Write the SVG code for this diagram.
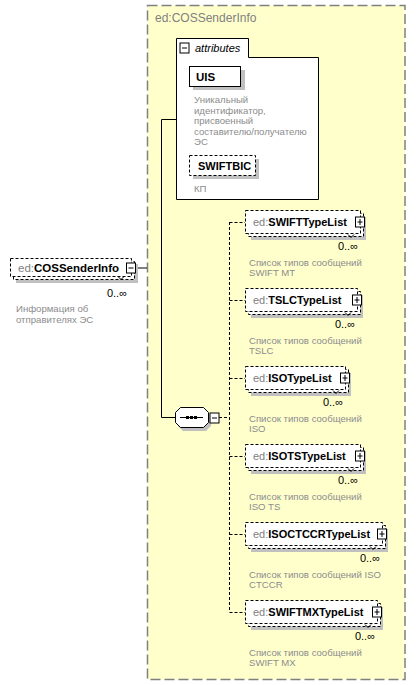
<svg xmlns="http://www.w3.org/2000/svg" width="416" height="685" viewBox="0 0 416 685">
<style>
text{font-family:"Liberation Sans",Arial,sans-serif;}
.nm{font-size:11px;font-weight:bold;fill:#000;}
.ns{font-weight:normal;fill:#808080;}
.ds{font-size:9.6px;fill:#8c8c8c;}
.oc{font-size:11px;fill:#000;text-anchor:end;}
.fr{fill:#fff;stroke:#000;stroke-width:1;stroke-dasharray:3,2;}
.sh{fill:#c0c0c0;}
.ic{fill:#fff;stroke:#000;stroke-width:1;}
.ln{stroke:#000;stroke-width:1;fill:none;}
.dl{stroke:#000;stroke-width:1;fill:none;stroke-dasharray:3,2;}
</style>
<defs>
<g id="plus"><rect class="ic" x="-4.5" y="-5.5" width="9" height="10"/><path class="ln" d="M-2.5,-0.5H2.5M0,-3.5V2.5"/></g>
<g id="minus"><rect class="ic" x="-4.5" y="-5.5" width="9" height="10"/><path class="ln" d="M-2.5,-0.5H2.5"/></g>
</defs>

<g id="container">
<rect x="147.5" y="5.5" width="257.5" height="674" fill="#ffffcc" stroke="#808080" stroke-width="1.5" stroke-dasharray="10,4"/>
<text x="155" y="22" font-size="12" fill="#808080">ed:COSSenderInfo</text>
</g>

<g id="connectors">
<path class="ln" d="M135,268H147"/>
<path class="ln" d="M161.5,119.5H176M161.5,119.5V417.5H175"/>
<path class="ln" d="M208,417.5H210"/>
<path class="dl" d="M219,417.5H229.5M229.5,222V612"/>
<path class="dl" d="M229.5,222.5H245M229.5,300.5H245M229.5,378.5H245M229.5,456.5H245M229.5,534.5H245M229.5,612.5H245"/>
</g>

<g id="attributes">
<path d="M176.5,199.5V38.5H248.5V57.5H318.5V199.5Z" fill="#fff" stroke="#000" stroke-width="1"/>
<use href="#minus" x="184.5" y="48.5"/>
<text x="195" y="52" font-size="11" font-style="italic" fill="#000">attributes</text>
</g>

<g id="attr-UIS">
<rect class="sh" x="193" y="70" width="52" height="20"/>
<rect x="189.5" y="66.5" width="51" height="20" fill="#fff" stroke="#000"/>
<text class="nm" x="196" y="80.5" style="font-size:11.5px">UIS</text>
<text class="ds" x="194" y="103">Уникальный</text>
<text class="ds" x="194" y="113.6">идентификатор,</text>
<text class="ds" x="194" y="124.2">присвоенный</text>
<text class="ds" x="194" y="134.8">составителю/получателю</text>
<text class="ds" x="194" y="145.4">ЭС</text>
</g>

<g id="attr-SWIFTBIC">
<rect class="sh" x="193" y="159" width="66" height="20"/>
<rect class="fr" x="189.5" y="155.5" width="66" height="20"/>
<text class="nm" x="198" y="170">SWIFTBIC</text>
<text class="ds" x="194" y="192">КП</text>
</g>

<g id="COSSenderInfo">
<rect class="sh" x="16" y="264" width="122" height="19"/>
<rect class="fr" x="13.5" y="261.5" width="121" height="18"/>
<rect class="fr" x="10.5" y="258.5" width="121" height="18"/>
<text class="nm" x="18" y="272" style="font-size:11.5px"><tspan class="ns">ed:</tspan>COSSenderInfo</text>
<use href="#minus" x="131" y="268.5"/>
<path class="ln" d="M118,276.5l3,3l3,-3"/>
<text class="oc" x="127" y="297">0..∞</text>
<text class="ds" x="16" y="312">Информация об</text>
<text class="ds" x="16" y="322.5">отправителях ЭС</text>
</g>

<g id="sequence">
<path class="sh" d="M178,416L183,411H206L211,416V426L206,431H183L178,426Z"/>
<path d="M175.5,412.5L180.5,407.5H203.5L208.5,412.5V422.5L203.5,427.5H180.5L175.5,422.5Z" fill="#fff" stroke="#000"/>
<path class="ln" d="M180,417.5H203"/>
<rect x="186" y="416" width="3" height="3" fill="#000"/>
<rect x="190" y="416" width="3" height="3" fill="#000"/>
<rect x="194" y="416" width="3" height="3" fill="#000"/>
<use href="#minus" x="214.5" y="418.5"/>
</g>

<g id="SWIFTTypeList">
<rect class="sh" x="251" y="217" width="115" height="23"/>
<rect class="fr" x="248.5" y="213.5" width="115" height="23"/>
<rect class="fr" x="245.5" y="210.5" width="115" height="23"/>
<text class="nm" x="253" y="226"><tspan class="ns">ed:</tspan>SWIFTTypeList</text>
<use href="#plus" x="360" y="222.5"/>
<path class="ln" d="M348,234.5l3,3l3,-3"/>
<text class="oc" x="358" y="250">0..∞</text>
<text class="ds" x="249" y="265.5">Список типов сообщений</text>
<text class="ds" x="249" y="276">SWIFT MT</text>
</g>

<g id="TSLCTypeList">
<rect class="sh" x="251" y="295" width="112" height="23"/>
<rect class="fr" x="248.5" y="291.5" width="112" height="23"/>
<rect class="fr" x="245.5" y="288.5" width="112" height="23"/>
<text class="nm" x="253" y="304"><tspan class="ns">ed:</tspan>TSLCTypeList</text>
<use href="#plus" x="357" y="300.5"/>
<path class="ln" d="M345,312.5l3,3l3,-3"/>
<text class="oc" x="355" y="328">0..∞</text>
<text class="ds" x="249" y="343.5">Список типов сообщений</text>
<text class="ds" x="249" y="354">TSLC</text>
</g>

<g id="ISOTypeList">
<rect class="sh" x="251" y="373" width="100" height="23"/>
<rect class="fr" x="248.5" y="369.5" width="100" height="23"/>
<rect class="fr" x="245.5" y="366.5" width="100" height="23"/>
<text class="nm" x="253" y="382"><tspan class="ns">ed:</tspan>ISOTypeList</text>
<use href="#plus" x="345" y="378.5"/>
<path class="ln" d="M333,390.5l3,3l3,-3"/>
<text class="oc" x="343" y="406">0..∞</text>
<text class="ds" x="249" y="421.5">Список типов сообщений</text>
<text class="ds" x="249" y="432">ISO</text>
</g>

<g id="ISOTSTypeList">
<rect class="sh" x="251" y="451" width="115" height="23"/>
<rect class="fr" x="248.5" y="447.5" width="115" height="23"/>
<rect class="fr" x="245.5" y="444.5" width="115" height="23"/>
<text class="nm" x="253" y="460"><tspan class="ns">ed:</tspan>ISOTSTypeList</text>
<use href="#plus" x="360" y="456.5"/>
<path class="ln" d="M348,468.5l3,3l3,-3"/>
<text class="oc" x="358" y="484">0..∞</text>
<text class="ds" x="249" y="499.5">Список типов сообщений</text>
<text class="ds" x="249" y="510">ISO TS</text>
</g>

<g id="ISOCTCCRTypeList">
<rect class="sh" x="251" y="529" width="137" height="23"/>
<rect class="fr" x="248.5" y="525.5" width="137" height="23"/>
<rect class="fr" x="245.5" y="522.5" width="137" height="23"/>
<text class="nm" x="253" y="538"><tspan class="ns">ed:</tspan>ISOCTCCRTypeList</text>
<use href="#plus" x="382" y="534.5"/>
<path class="ln" d="M370,546.5l3,3l3,-3"/>
<text class="oc" x="380" y="562">0..∞</text>
<text class="ds" x="249" y="577.5">Список типов сообщений ISO</text>
<text class="ds" x="249" y="588">CTCCR</text>
</g>

<g id="SWIFTMXTypeList">
<rect class="sh" x="251" y="607" width="132" height="23"/>
<rect class="fr" x="248.5" y="603.5" width="132" height="23"/>
<rect class="fr" x="245.5" y="600.5" width="132" height="23"/>
<text class="nm" x="253" y="616"><tspan class="ns">ed:</tspan>SWIFTMXTypeList</text>
<use href="#plus" x="377" y="612.5"/>
<path class="ln" d="M365,624.5l3,3l3,-3"/>
<text class="oc" x="375" y="640">0..∞</text>
<text class="ds" x="249" y="655.5">Список типов сообщений</text>
<text class="ds" x="249" y="666">SWIFT MX</text>
</g>
</svg>
